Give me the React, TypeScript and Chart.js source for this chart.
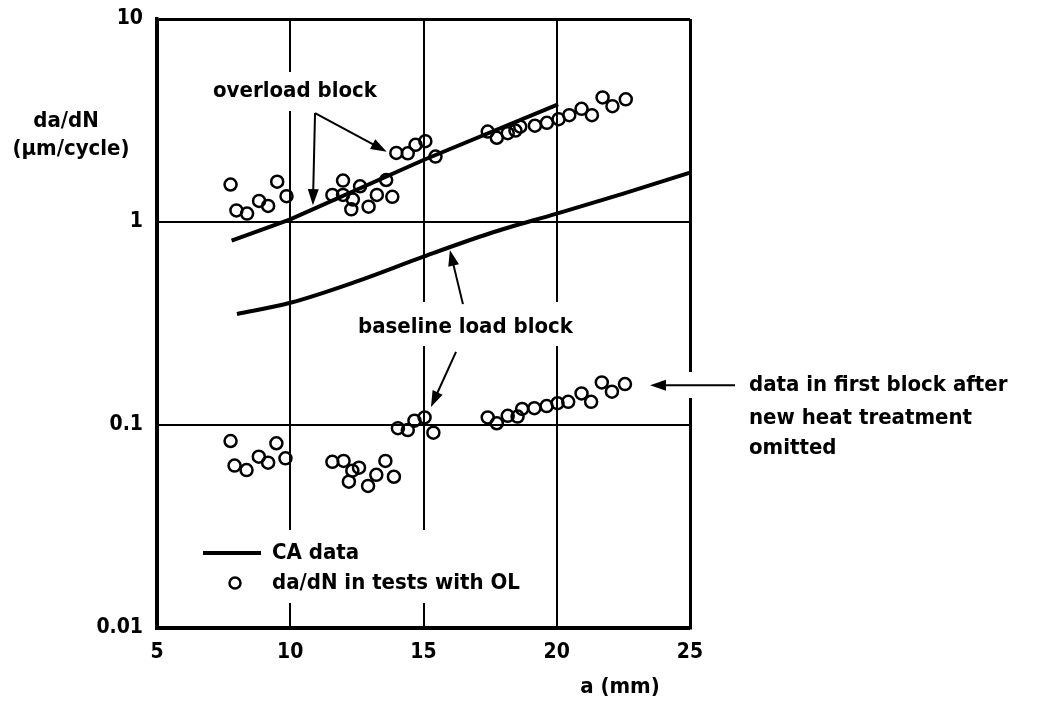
import React, { useEffect, useRef } from "react";
import { Chart, registerables } from "chart.js";

Chart.register(...registerables);

// ---- axes ----
const xTickValues = [5, 10, 15, 20, 25];
const yTickValues = [0.01, 0.1, 1, 10];
const yTickLabels = ["0.01", "0.1", "1", "10"];

// ---- CA data (constant amplitude curves) ----
const caOverloadA = [7.8, 10, 15, 20.05];
const caOverloadV = [0.81, 1.03, 2.02, 3.8];
const caBaselineA = [8, 10, 12.5, 15, 17.5, 20, 22.5, 25];
const caBaselineV = [0.352, 0.4, 0.51, 0.675, 0.88, 1.1, 1.38, 1.75];

// ---- da/dN in tests with OL : overload block ----
const olA = [7.76, 7.98, 8.38, 8.83, 9.17, 9.51, 9.86, 11.58, 11.98, 11.98, 12.35, 12.29, 12.62, 12.94, 13.25, 13.6, 13.83,
  13.98, 14.41, 14.7, 15.07, 15.45,
  17.41, 17.75, 18.16, 18.45, 18.63, 19.18, 19.63, 20.07, 20.47, 20.93, 21.32, 21.72, 22.09, 22.59];
const olV = [1.53, 1.14, 1.1, 1.27, 1.2, 1.58, 1.34, 1.36, 1.6, 1.36, 1.29, 1.155, 1.5, 1.19, 1.36, 1.61, 1.33,
  2.19, 2.18, 2.4, 2.5, 2.1,
  2.79, 2.6, 2.74, 2.82, 2.95, 2.98, 3.08, 3.21, 3.36, 3.61, 3.36, 4.11, 3.72, 4.02];

// ---- da/dN in tests with OL : baseline load block ----
const blA = [7.76, 7.91, 8.36, 8.82, 9.17, 9.48, 9.82, 11.58, 12.0, 12.33, 12.58, 12.2, 12.92, 13.23, 13.57, 13.89,
  14.04, 14.41, 14.66, 15.04, 15.37,
  17.41, 17.75, 18.16, 18.53, 18.7, 19.16, 19.62, 20.03, 20.43, 20.93, 21.29, 21.69, 22.07, 22.56];
const blV = [0.0834, 0.0631, 0.06, 0.0698, 0.0652, 0.0813, 0.0685, 0.0659, 0.0665, 0.0596, 0.0616, 0.0526, 0.0501, 0.0568, 0.0665, 0.0556,
  0.0964, 0.0944, 0.105, 0.109, 0.0917,
  0.109, 0.102, 0.111, 0.11, 0.12, 0.121, 0.124, 0.128, 0.13, 0.143, 0.13, 0.162, 0.146, 0.159];

const zip = (a: number[], v: number[]) => a.map((x, i) => ({ x, y: v[i] }));

const FONT = "'DejaVu Sans Condensed', 'DejaVu Sans', sans-serif";

function arrow(ctx: CanvasRenderingContext2D, x0: number, y0: number, x1: number, y1: number) {
  const ang = Math.atan2(y1 - y0, x1 - x0);
  const L = 16, W = 5.5;
  const c = Math.cos(ang), s = Math.sin(ang);
  ctx.beginPath();
  ctx.moveTo(x0, y0);
  ctx.lineTo(x1 - L * 0.7 * c, y1 - L * 0.7 * s);
  ctx.stroke();
  ctx.beginPath();
  ctx.moveTo(x1, y1);
  ctx.lineTo(x1 - L * c + W * s, y1 - L * s - W * c);
  ctx.lineTo(x1 - L * c - W * s, y1 - L * s + W * c);
  ctx.closePath();
  ctx.fill();
}

const annotations = {
  id: "annotations",
  afterDraw(chart: any) {
    const ctx: CanvasRenderingContext2D = chart.ctx;
    const xs = chart.scales.x, ys = chart.scales.y;
    const px = (a: number) => xs.getPixelForValue(a);
    const py = (v: number) => ys.getPixelForValue(v);
    ctx.save();
    // knock-outs behind labels
    ctx.fillStyle = "#ffffff";
    ctx.fillRect(205, 72, 182, 39);
    ctx.fillRect(350, 302, 220, 44);
    ctx.fillRect(198, 530, 354, 73);
    ctx.fillRect(686, 372, 10, 26);

    ctx.fillStyle = "#000";
    ctx.strokeStyle = "#000";
    ctx.font = `bold 22px ${FONT}`;
    ctx.textBaseline = "middle";
    ctx.textAlign = "left";
    ctx.fillText("overload block", 213, 91);
    ctx.fillText("baseline load block", 358, 327);
    ctx.fillText("data in first block after", 749, 385);
    ctx.fillText("new heat treatment", 749, 418);
    ctx.fillText("omitted", 749, 448);

    // legend
    ctx.lineWidth = 4;
    ctx.beginPath();
    ctx.moveTo(203, 553);
    ctx.lineTo(261, 553);
    ctx.stroke();
    ctx.lineWidth = 2.5;
    ctx.beginPath();
    ctx.arc(235, 583, 5.5, 0, Math.PI * 2);
    ctx.stroke();
    ctx.fillText("CA data", 272, 553);
    ctx.fillText("da/dN in tests with OL", 272, 583);

    // axis titles
    ctx.textAlign = "center";
    ctx.fillText("da/dN", 66, 121);
    ctx.fillText("(\u00b5m/cycle)", 71, 149);
    ctx.fillText("a (mm)", 620, 687);

    // arrows
    ctx.lineWidth = 2;
    arrow(ctx, px(10.93), py(3.44), px(10.85), py(1.21));
    arrow(ctx, px(10.93), py(3.44), px(13.62), py(2.22));
    arrow(ctx, px(16.48), py(0.394), px(15.99), py(0.728));
    arrow(ctx, px(16.22), py(0.229), px(15.28), py(0.1227));
    arrow(ctx, px(26.69), py(0.157), px(23.5), py(0.157));
    ctx.restore();
  },
};

export default function App() {
  const ref = useRef<HTMLCanvasElement>(null);
  useEffect(() => {
    document.body.style.margin = "0";
    const canvas = ref.current!;
    const chart = new Chart(canvas, {
      type: "scatter",
      data: {
        datasets: [
          {
            label: "CA data (overload)",
            data: zip(caOverloadA, caOverloadV),
            showLine: true,
            borderColor: "#000",
            borderWidth: 4,
            pointRadius: 0,
            tension: 0,
          },
          {
            label: "CA data (baseline)",
            data: zip(caBaselineA, caBaselineV),
            showLine: true,
            borderColor: "#000",
            borderWidth: 4,
            pointRadius: 0,
            cubicInterpolationMode: "monotone",
          },
          {
            label: "da/dN in tests with OL (overload block)",
            data: zip(olA, olV),
            showLine: false,
            pointRadius: 6,
            pointBorderWidth: 2.5,
            pointBorderColor: "#000",
            pointBackgroundColor: "rgba(0,0,0,0)",
          },
          {
            label: "da/dN in tests with OL (baseline block)",
            data: zip(blA, blV),
            showLine: false,
            pointRadius: 6,
            pointBorderWidth: 2.5,
            pointBorderColor: "#000",
            pointBackgroundColor: "rgba(0,0,0,0)",
          },
        ],
      },
      options: {
        animation: false,
        responsive: false,
        devicePixelRatio: 1,
        layout: { padding: { top: 19, right: 358, left: 0, bottom: 0 } },
        plugins: { legend: { display: false }, tooltip: { enabled: false } },
        scales: {
          x: {
            type: "linear",
            min: 5,
            max: 25,
            afterBuildTicks: (axis: any) => {
              axis.ticks = xTickValues.map((v) => ({ value: v }));
            },
            afterFit: (axis: any) => {
              axis.height = 73;
              axis.paddingLeft = 0;
              axis.paddingRight = 0;
            },
            ticks: {
              color: "#000",
              padding: 12,
              font: { family: FONT, size: 21, weight: "bold" },
              callback: (v: any) => String(v),
            },
            grid: {
              color: "#000",
              lineWidth: (c: any) => (c.tick && (c.tick.value === 25 || c.tick.value === 5) ? 3 : 2),
              drawTicks: false,
            },
            border: { display: true, color: "#000", width: 3.5 },
          },
          y: {
            type: "logarithmic",
            min: 0.01,
            max: 10,
            afterBuildTicks: (axis: any) => {
              axis.ticks = yTickValues.map((v) => ({ value: v }));
            },
            afterFit: (axis: any) => {
              axis.width = 157;
              axis.paddingTop = 0;
              axis.paddingBottom = 0;
            },
            ticks: {
              color: "#000",
              padding: 14,
              font: { family: FONT, size: 21, weight: "bold" },
              callback: (v: any) => {
                const i = yTickValues.findIndex((t) => Math.abs(t - v) < 1e-9);
                return i >= 0 ? yTickLabels[i] : "";
              },
            },
            grid: {
              color: "#000",
              lineWidth: (c: any) => (c.tick && (c.tick.value === 10 || c.tick.value === 0.01) ? 3 : 2),
              drawTicks: false,
            },
            border: { display: true, color: "#000", width: 3.5 },
          },
        },
      },
      plugins: [annotations],
    } as any);
    return () => chart.destroy();
  }, []);
  return <canvas ref={ref} width={1048} height={701} style={{ display: "block" }} />;
}
